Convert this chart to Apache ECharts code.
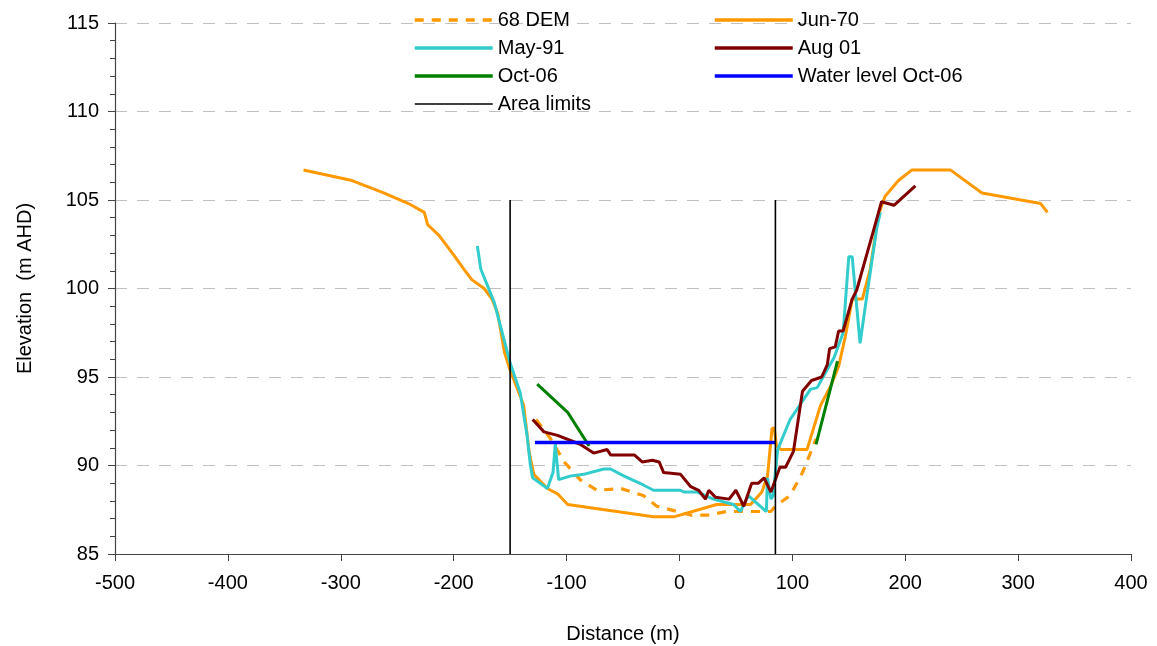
<!DOCTYPE html>
<html>
<head>
<meta charset="utf-8">
<script src="https://cdn.jsdelivr.net/npm/echarts@6/dist/echarts.min.js"></script>
<style>
  html, body { margin: 0; padding: 0; background: #fff; }
  #chart { width: 1157px; height: 646px; }
</style>
</head>
<body>
<div id="chart"></div>
<script>
// cross-section profiles, distance (m) vs elevation (m AHD)
var dem68X = [-127, -114, -102, -88, -73, -52, -32, -20, -14, 10, 25, 42, 63, 81, 85, 98, 109, 116, 121];
var dem68Y = [92.6, 91.5, 90.2, 89.2, 88.6, 88.7, 88.3, 87.7, 87.6, 87.2, 87.2, 87.4, 87.4, 87.4, 87.7, 88.3, 89.6, 90.7, 91.5];

var jun70X = [-333, -290, -262, -240, -226, -223, -213, -200, -191, -184, -173, -166, -161, -155, -150, -138, -133, -129, -117, -108, -99, -23, -5, 33, 63, 73, 78, 82, 84, 86, 90, 113, 125, 134, 141, 147, 153, 162, 169, 176, 182, 194, 206, 240, 268, 320, 326];
var jun70Y = [106.7, 106.1, 105.4, 104.8, 104.3, 103.6, 103.0, 101.9, 101.1, 100.5, 100.0, 99.4, 98.6, 96.4, 95.4, 93.4, 90.7, 89.5, 88.7, 88.4, 87.8, 87.1, 87.1, 87.8, 87.8, 88.5, 89.4, 92.1, 92.1, 91.1, 90.9, 90.9, 93.4, 94.5, 95.6, 97.3, 99.4, 99.4, 101.1, 104.1, 105.2, 106.1, 106.7, 106.7, 105.4, 104.8, 104.3];

var may91X = [-179, -176, -164, -150, -141, -135, -132, -130, -117, -112, -110, -107, -97, -85, -67, -61, -49, -32, -23, 1, 4, 16, 30, 48, 54, 61, 77, 78, 81, 83, 87, 98, 116, 122, 137, 145, 150, 153, 160, 166, 175, 178];
var may91Y = [102.4, 101.1, 99.2, 95.8, 94.1, 91.7, 90.0, 89.3, 88.7, 89.6, 91.2, 89.2, 89.4, 89.5, 89.8, 89.8, 89.4, 88.9, 88.6, 88.6, 88.5, 88.5, 88.1, 87.8, 87.4, 88.3, 87.4, 89.3, 88.1, 88.3, 90.9, 92.6, 94.3, 94.4, 96.1, 97.5, 101.8, 101.8, 96.9, 99.6, 103.5, 104.3];

var aug01X = [-130, -120, -108, -88, -76, -64, -61, -40, -33, -24, -18, -14, 1, 10, 17, 23, 26, 32, 44, 50, 57, 64, 70, 75, 81, 89, 94, 101, 109, 117, 126, 131, 133, 138, 141, 145, 153, 157, 172, 179, 190, 209];
var aug01Y = [92.6, 91.9, 91.7, 91.2, 90.7, 90.9, 90.6, 90.6, 90.2, 90.3, 90.2, 89.6, 89.5, 88.8, 88.6, 88.1, 88.6, 88.2, 88.1, 88.6, 87.7, 89.0, 89.0, 89.3, 88.5, 89.9, 89.9, 90.8, 94.2, 94.8, 95.0, 95.7, 96.6, 96.7, 97.6, 97.6, 99.4, 99.9, 103.3, 104.9, 104.7, 105.8];

var oct06LeftX = [-126, -99, -80];
var oct06LeftY = [94.6, 93.0, 91.1];
var oct06RightX = [121, 140];
var oct06RightY = [91.2, 95.9];

var waterX = [-128, 85];
var waterY = [91.3, 91.3];

var limitX = [-150, 85];
var limitY = [85, 105];

var xTicks = [-500, 400, 100];
var yTicks = [85, 115, 5];

function zip(xs, ys) {
	var out = [];
	for (var i = 0; i < xs.length; i++) {
		out.push([xs[i], ys[i]]);
	}
	return out;
}

var myChart = echarts.init(document.getElementById('chart'));

var lineSeries = function(name, data, color, width, type) {
	return {
		name: name,
		type: 'line',
		data: data,
		symbol: 'none',
		silent: true,
		animation: false,
		lineStyle: { color: color, width: width, type: type || 'solid' },
		itemStyle: { color: color }
	};
};

var series = [
	lineSeries('68 DEM', zip(dem68X, dem68Y), '#ff9900', 3.2, [9, 8]),
	lineSeries('Jun-70', zip(jun70X, jun70Y), '#ff9900', 3),
	lineSeries('May-91', zip(may91X, may91Y), '#33cccc', 3),
	lineSeries('Aug 01', zip(aug01X, aug01Y), '#800000', 3),
	lineSeries('Oct-06', zip(oct06LeftX, oct06LeftY), '#008000', 3),
	lineSeries('Oct-06', zip(oct06RightX, oct06RightY), '#008000', 3),
	lineSeries('Water level Oct-06', zip(waterX, waterY), '#0000ff', 3.5)
];
limitX.forEach(function(x) {
	series.push(lineSeries('Area limits', [[x, limitY[0]], [x, limitY[1]]], '#000000', 1.6));
});

// legend entries, with the line style drawn in each key
var legendItem = function(name, color, width, type) {
	return {
		name: name,
		itemStyle: { opacity: 0 },
		lineStyle: { color: color, width: width, type: type || 'solid' }
	};
};

var legendText = { fontFamily: 'Liberation Sans', fontSize: 20, color: '#000', lineHeight: 20 };

var legendBase = {
	orient: 'vertical', top: 5,
	itemWidth: 78, itemHeight: 8, itemGap: 8,
	itemStyle: { opacity: 0 },
	textStyle: legendText
};

var option = {
	backgroundColor: '#fff',
	animation: false,
	textStyle: { fontFamily: 'Liberation Sans' },
	grid: { left: 115, right: 26, top: 23, bottom: 92, outerBoundsMode: 'none' },
	legend: [
		Object.assign({}, legendBase, { left: 408, data: [
			legendItem('68 DEM', '#ff9900', 3.5, [9, 8]),
			legendItem('May-91', '#33cccc', 3.5),
			legendItem('Oct-06', '#008000', 3.5),
			legendItem('Area limits', '#000000', 1.6)
		] }),
		Object.assign({}, legendBase, { left: 708, data: [
			legendItem('Jun-70', '#ff9900', 3.5),
			legendItem('Aug 01', '#800000', 3.5),
			legendItem('Water level Oct-06', '#0000ff', 3.5)
		] })
	],
	xAxis: {
		type: 'value',
		min: xTicks[0], max: xTicks[1], interval: xTicks[2],
		name: 'Distance (m)',
		nameLocation: 'middle',
		nameGap: 70,
		nameTextStyle: { fontSize: 20, color: '#000' },
		axisLine: { onZero: false, lineStyle: { color: '#444', width: 1.2 } },
		axisTick: { show: true, inside: false, length: 7, lineStyle: { color: '#444' } },
		axisLabel: { fontSize: 20, color: '#000', margin: 19 },
		splitLine: { show: false }
	},
	yAxis: {
		type: 'value',
		min: yTicks[0], max: yTicks[1], interval: yTicks[2],
		name: 'Elevation  (m AHD)',
		nameLocation: 'middle',
		nameGap: 80,
		nameTextStyle: { fontSize: 20, color: '#000' },
		axisLine: { show: true, onZero: false, lineStyle: { color: '#444', width: 1.2 } },
		axisTick: { show: true, length: 7, lineStyle: { color: '#444' } },
		minorTick: { show: true, splitNumber: 5, length: 5, lineStyle: { color: '#444' } },
		axisLabel: { fontSize: 20, color: '#000', margin: 16 },
		splitLine: { show: true, lineStyle: { color: '#c0c0c0', type: [12, 10], width: 1 } }
	},
	series: series
};

myChart.setOption(option);
</script>
</body>
</html>
